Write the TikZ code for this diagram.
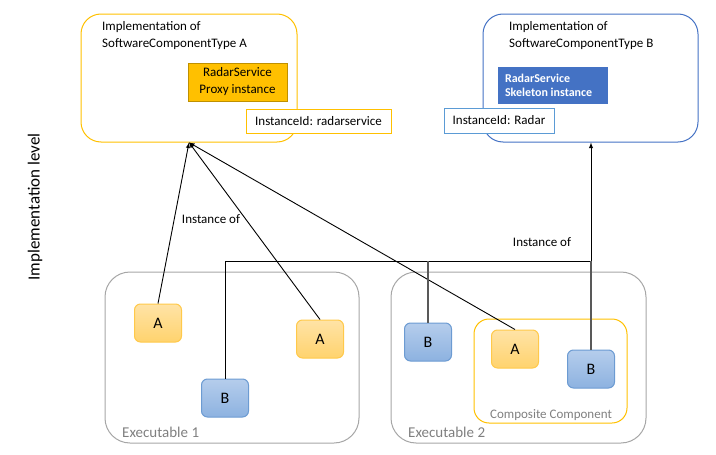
\documentclass[tikz,border=0pt]{standalone}
\usepackage{fontspec}
\setmainfont{Carlito}
\usepackage{tikz}
\usetikzlibrary{arrows}

\definecolor{swcorange}{HTML}{FFC000}
\definecolor{swcorangedark}{HTML}{BF9000}
\definecolor{swcblue}{HTML}{4472C4}
\definecolor{swclightblue}{HTML}{5B9BD5}
\definecolor{atop}{HTML}{FFE3A6}
\definecolor{abottom}{HTML}{FFD36E}
\definecolor{aborder}{HTML}{FFC94A}
\definecolor{btop}{HTML}{B5CDEC}
\definecolor{bbottom}{HTML}{8DB2E0}
\definecolor{bborder}{HTML}{6C9BD2}
\definecolor{execgray}{HTML}{A6A6A6}
\definecolor{labelgray}{HTML}{7F7F7F}

\begin{document}
\begin{tikzpicture}[x=1pt, y=-1pt,
  txt/.style={font=\fontsize{13}{17}\selectfont, inner sep=0pt},
  implbox/.style={draw, rounded corners=20pt, line width=1pt, inner sep=0pt},
  idbox/.style={draw, fill=white, line width=1pt, txt},
  execbox/.style={draw=execgray, rounded corners=25pt, line width=1pt, inner sep=0pt},
  comp/.style={rounded corners=6pt, line width=1pt, minimum width=47pt, minimum height=38pt,
    inner sep=0pt, font=\fontsize{16}{19}\selectfont},
  compA/.style={comp, draw=aborder, top color=atop, bottom color=abottom},
  compB/.style={comp, draw=bborder, top color=btop, bottom color=bbottom},
  conn/.style={draw, line width=0.9pt}
  ]
  \useasboundingbox (0,0) rectangle (716,455);

  % implementation level
  \node[rotate=90, font=\fontsize{17}{20}\selectfont] (level) at (35,207) {Implementation level};

  \node[implbox, draw=swcorange, minimum width=216pt, minimum height=128pt] (implA) at (189,78) {};
  \node[txt, anchor=base west, align=left] (implAtext) at (102,47) {Implementation of\\SoftwareComponentType A};
  \node[txt, draw=swcorangedark, fill=swcorange, line width=1pt, minimum width=99pt, minimum height=38pt,
    align=center] (proxy) at (237.5,82) {RadarService\\Proxy instance};
  \node[idbox, draw=swcorange, minimum width=145pt, minimum height=24pt] (idA) at (318.5,121) {InstanceId: radarservice};

  \node[implbox, draw=swcblue, minimum width=215pt, minimum height=128pt] (implB) at (590.5,78) {};
  \node[txt, anchor=base west, align=left] (implBtext) at (509,47) {Implementation of\\SoftwareComponentType B};
  \node[txt, draw=swcblue, fill=swcblue, text=white, font=\fontsize{12}{14}\bfseries, line width=1pt,
    minimum width=109pt, minimum height=36pt, align=flush left, text width=95pt, inner xsep=7pt] (skeleton) at (552.5,85)
    {RadarService\\Skeleton instance};
  \node[idbox, draw=swclightblue, minimum width=110pt, minimum height=25pt] (idB) at (499,120.5) {InstanceId: Radar};

  % executables
  \node[execbox, minimum width=254pt, minimum height=171pt] (exe1) at (232,357.5) {};
  \node[execbox, minimum width=255pt, minimum height=171pt] (exe2) at (518.5,357.5) {};
  \node[anchor=base west, inner sep=0pt, text=labelgray, font=\fontsize{15}{18}\selectfont] (exe1label) at (122,437) {Executable 1};
  \node[anchor=base west, inner sep=0pt, text=labelgray, font=\fontsize{15}{18}\selectfont] (exe2label) at (408,437) {Executable 2};

  \node[draw=swcorange, rounded corners=15pt, line width=1pt, minimum width=153pt, minimum height=104pt,
    inner sep=0pt] (composite) at (550.5,371) {};
  \node[txt, anchor=base, text=labelgray] (compositelabel) at (551,418) {Composite Component};

  \node[compA] (a1) at (158,323) {A};
  \node[compA] (a2) at (320,339) {A};
  \node[compB] (b1) at (225,398) {B};
  \node[compB] (b2) at (428,342) {B};
  \node[compA] (a3) at (515,349) {A};
  \node[compB] (b3) at (591,369) {B};

  % instance of
  \path[conn]
  (a1.north) edge[-latex] (implA.south)
  (a2.north) edge[-latex] (implA.south)
  (a3.north) edge[-latex] (implA.south)
  ;
  \coordinate (bus) at (0,261);
  \draw[conn] (b1.north) -- (b1 |- bus) -- (b3 |- bus);
  \draw[conn, draw=black!65, line width=1.2pt] (b2.north) -- (b2 |- bus);
  \draw[conn, draw=black!65, line width=1.2pt] (b3.north) -- (b3 |- bus);
  \draw[conn, -latex] (b3 |- bus) -- (implB.south -| b3);

  \node[txt] (instA) at (211,219) {Instance of};
  \node[txt] (instB) at (542,242) {Instance of};
\end{tikzpicture}
\end{document}
